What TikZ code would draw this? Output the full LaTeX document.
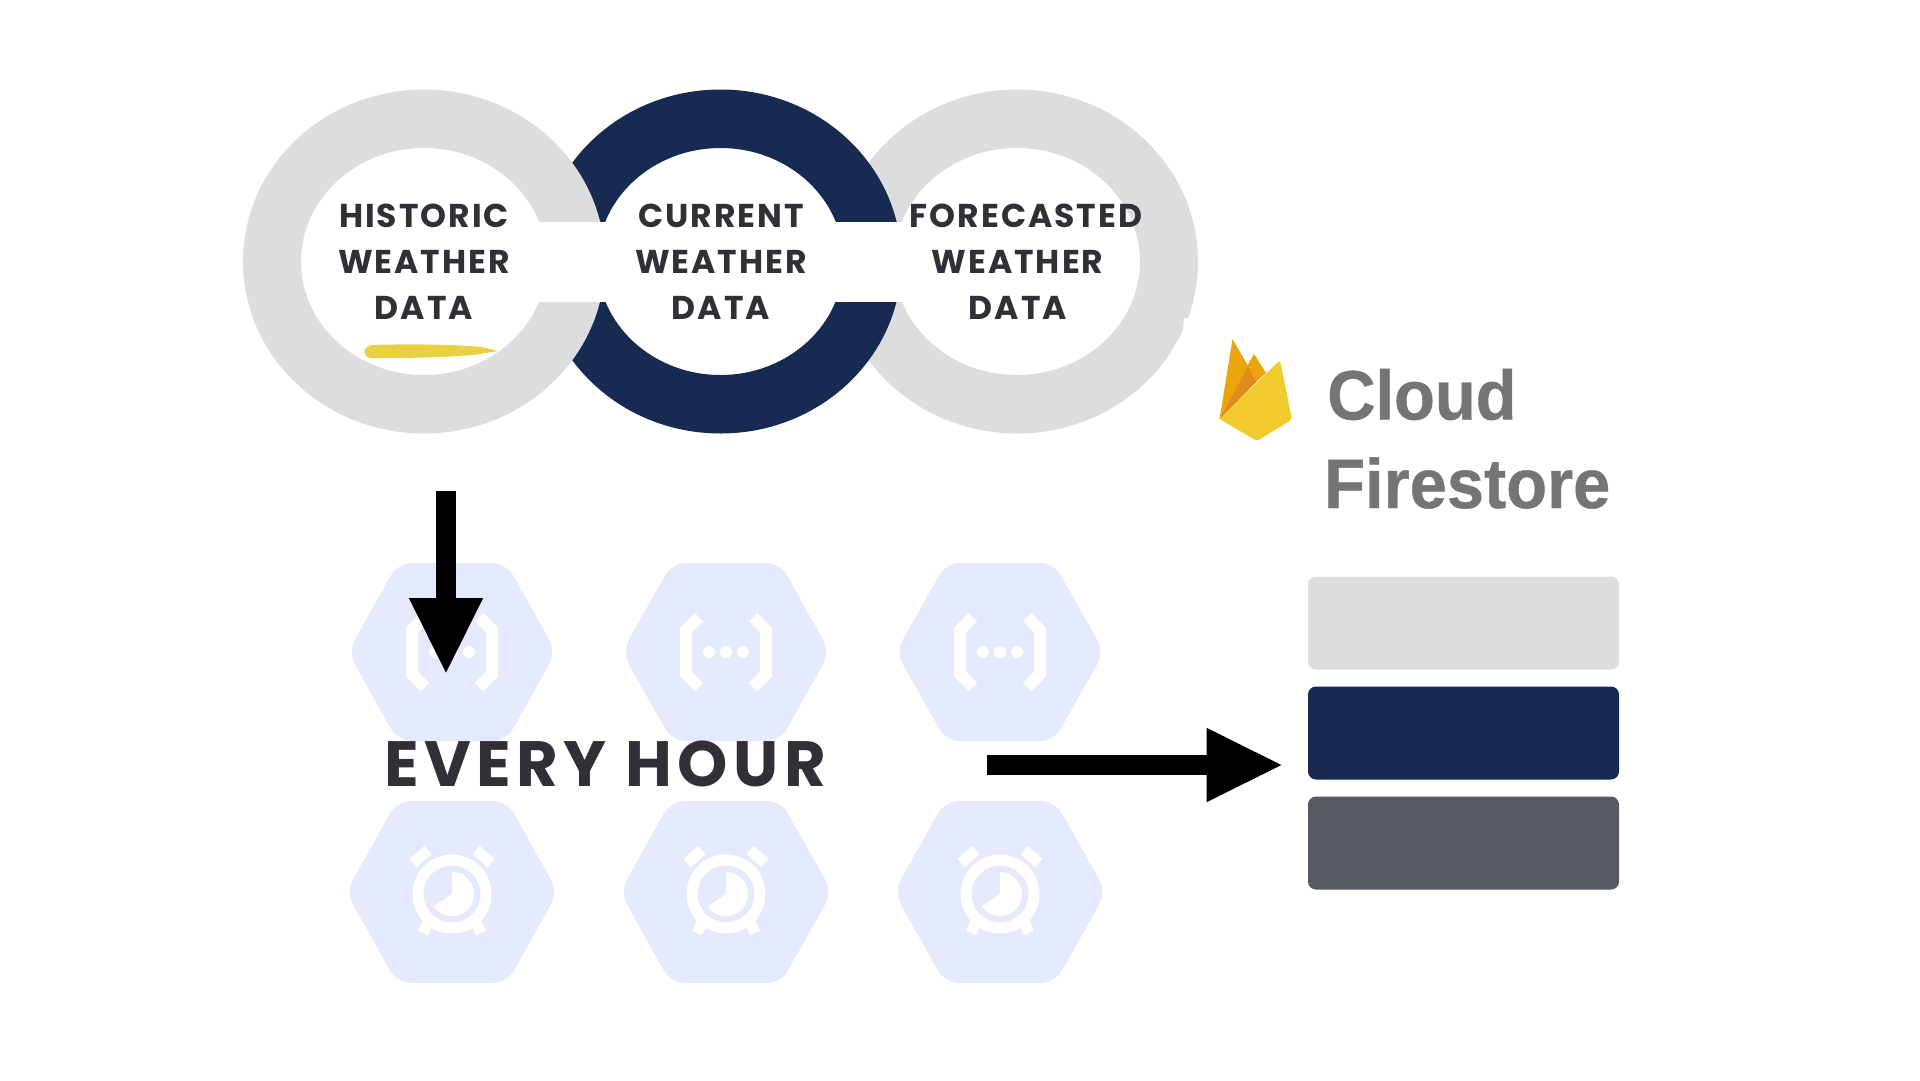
\documentclass[tikz,border=0pt]{standalone}
\usepackage{fontspec}
\usetikzlibrary{arrows.meta}
\newfontfamily\weatherfont[LetterSpace=6]{Poppins}
\newfontfamily\hourfont[LetterSpace=8.5]{Poppins}
\newfontfamily\storefont[BoldFeatures={FakeBold=0.6,FakeStretch=0.955}]{Liberation Sans}
\definecolor{ringgray}{HTML}{DCDDDF}
\definecolor{ringnavy}{HTML}{162A52}
\definecolor{bardark}{HTML}{565961}
\definecolor{hexblue}{HTML}{E4E9FB}
\definecolor{textdark}{HTML}{2F3136}
\definecolor{storegray}{HTML}{757575}
\definecolor{brushyellow}{HTML}{EAD043}
\definecolor{flameamber}{HTML}{ECA40D}
\definecolor{flamedark}{HTML}{E08B1E}
\definecolor{flameyellow}{HTML}{F2CB2F}
\tikzset{
  x=1pt, y=-1pt,
  weathertext/.style={anchor=base, inner sep=0pt, text=textdark,
    font=\weatherfont\bfseries\fontsize{33}{33}\selectfont},
  storetext/.style={anchor=base west, inner sep=0pt, text=storegray,
    font=\storefont\bfseries\fontsize{70}{70}\selectfont},
  storebar/.style={rectangle, rounded corners=8pt, minimum width=311pt,
    minimum height=93pt, inner sep=0pt},
  bigarrow/.style={-{Triangle[length=74.7pt,width=74.3pt,line width=0pt]}, line width=20.5pt, black},
  pics/funchex/.style={code={
    \fill [hexblue, rounded corners=14pt] (-104, 0) -- (-54, -89) -- (54, -89)
      -- (104, 0) -- (54, 89) -- (-54, 89) -- cycle;
    \draw [white, line width=12pt, line join=miter] (-27, -35) -- (-40, -22) -- (-40, 22) -- (-27, 35);
    \draw [white, line width=12pt, line join=miter] (27, -35) -- (40, -22) -- (40, 22) -- (27, 35);
    \foreach \dotx in {-17, 0, 17}
      \fill [white] (\dotx, 0) circle (6);
  }},
  pics/clockhex/.style={code={
    \fill [hexblue, rounded corners=14pt] (-106, 0) -- (-55, -91) -- (55, -91)
      -- (106, 0) -- (55, 91) -- (-55, 91) -- cycle;
    \draw [white, line width=11pt] (0, 2) circle (34);
    \fill [white] (0, 2) -- (0, -20) arc [start angle=-90, end angle=146, radius=22] -- cycle;
    \draw [white, line width=11pt] (-39, -29) -- (-24, -42);
    \draw [white, line width=11pt] (39, -29) -- (24, -42);
    \draw [white, line width=11pt] (-24, 30) -- (-29, 41);
    \draw [white, line width=11pt] (24, 30) -- (29, 41);
  }},
}
\begin{document}
\begin{tikzpicture}
  \useasboundingbox (0, 0) rectangle (1920, 1080);
  \fill [white] (0, 0) rectangle (1920, 1080);
  % rings, the first lies on top
  \fill [ringgray, even odd rule] (1017, 261.5) ellipse [x radius=181, y radius=172]
    (1017, 261.5) ellipse [x radius=123, y radius=113.5];
  \fill [white] (1184, 318) -- (1183, 331) -- (1172, 350) -- (1195, 350) -- (1195, 318) -- cycle;
  \fill [ringnavy, even odd rule] (720.5, 261.5) ellipse [x radius=181, y radius=172]
    (720.5, 261.5) ellipse [x radius=123, y radius=113.5];
  \fill [ringgray, even odd rule] (424, 261.5) ellipse [x radius=181, y radius=172]
    (424, 261.5) ellipse [x radius=123, y radius=113.5];
  \fill [white] (537, 222) rectangle (904, 302);
  % brush mark
  \fill [brushyellow] (372, 345) .. controls (400, 344) and (450, 344) .. (482, 347)
    -- (498, 351) -- (480, 354) .. controls (450, 358) and (400, 358) .. (372, 358)
    .. controls (362, 358) and (362, 346) .. (372, 345) -- cycle;
  \node [weathertext] (historictop) at (424, 227) {HISTORIC};
  \node [weathertext] (historicmid) at (424, 273) {WEATHER};
  \node [weathertext] (historiclow) at (424, 319) {DATA};
  \node [weathertext] (currenttop) at (721, 227) {CURRENT};
  \node [weathertext] (currentmid) at (721, 273) {WEATHER};
  \node [weathertext] (currentlow) at (721, 319) {DATA};
  \node [weathertext] (foretop) at (1026, 227) {FORECASTED};
  \node [weathertext] (foremid) at (1017.5, 273) {WEATHER};
  \node [weathertext] (forelow) at (1018, 319) {DATA};
  % hexagons
  \foreach \hexx in {452, 726, 1000} {
    \pic at (\hexx, 652) {funchex};
    \pic at (\hexx, 892) {clockhex};
  }
  \coordinate (downstart) at (446, 491);
  \coordinate (downend) at (446, 672.7);
  \draw [bigarrow] (downstart) -- (downend);
  \coordinate (rightstart) at (987, 765);
  \coordinate (rightend) at (1281.4, 765);
  \draw [bigarrow] (rightstart) -- (rightend);
  \node [anchor=base, inner sep=0pt, text=textdark,
    font={\hourfont\bfseries\fontsize{64}{64}\selectfont}]
    (hourlabel) at (605, 786) {EVERY HOUR};
  % firebase mark
  \fill [flameamber] (1219.5, 419.5) -- (1232.5, 339) -- (1248.5, 367) -- (1256, 382) -- cycle;
  \fill [flameamber] (1247, 366) -- (1254, 354) -- (1266, 373) -- (1256, 382) -- cycle;
  \fill [flamedark] (1219.5, 419.5) -- (1248, 366.5) -- (1256, 382) -- cycle;
  \fill [flameyellow, rounded corners=3pt] (1219.5, 419) -- (1280, 360) -- (1292, 419.5)
    -- (1257, 441) -- cycle;
  \node [storetext] (cloudlabel) at (1327, 419.5) {Cloud};
  \node [storetext] (firelabel) at (1324, 508) {Firestore};
  % collection bars
  \node [storebar, fill=ringgray] (topbar) at (1463.5, 623) {};
  \node [storebar, fill=ringnavy] (midbar) at (1463.5, 733) {};
  \node [storebar, fill=bardark] (lowbar) at (1463.5, 843) {};
\end{tikzpicture}
\end{document}
